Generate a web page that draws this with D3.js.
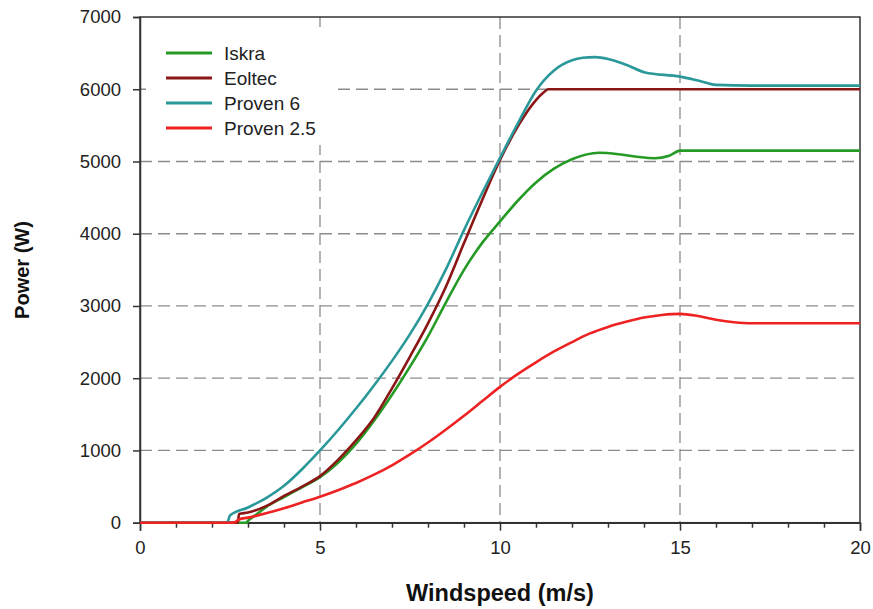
<!DOCTYPE html>
<html>
<head>
<meta charset="utf-8">
<script src="https://cdn.jsdelivr.net/npm/d3@7"></script>
<style>
  html, body { margin: 0; padding: 0; background: #ffffff; }
  svg { display: block; font-family: "Liberation Sans", Arial, sans-serif; }
</style>
</head>
<body>
<svg id="chart" width="873" height="609"></svg>
<script>
// ---- Data ----
const seriesNames = ["Iskra", "Eoltec", "Proven 6", "Proven 2.5"];
const seriesColors = ["#259a25", "#8a1616", "#2a9898", "#ee2222"];

const iskraWind  = [0, 2.95, 3.0, 3.25, 3.5, 4, 4.5, 5, 5.5, 6, 6.5, 7, 7.5, 8, 8.5, 9, 9.5, 10, 10.5, 11, 11.5, 12, 12.75, 13.3, 13.8, 14.3, 14.7, 15, 20];
const iskraPower = [0, 0, 25, 120, 215, 355, 490, 630, 830, 1090, 1410, 1770, 2160, 2580, 3050, 3500, 3870, 4170, 4460, 4710, 4900, 5030, 5120, 5100, 5065, 5045, 5080, 5150, 5150];

const eoltecWind  = [0, 2.72, 2.75, 3, 3.5, 4, 4.5, 5, 5.5, 6, 6.5, 7, 7.5, 8, 8.5, 9, 9.5, 10, 10.5, 11, 11.2, 11.34, 20];
const eoltecPower = [0, 0, 120, 140, 230, 370, 500, 645, 870, 1140, 1450, 1860, 2300, 2760, 3270, 3870, 4460, 5020, 5490, 5850, 5950, 6000, 6000];

const proven6Wind  = [0, 2.42, 2.5, 3, 3.5, 4, 4.5, 5, 5.5, 6, 6.5, 7, 7.5, 8, 8.5, 9, 9.5, 10, 10.5, 11, 11.5, 12, 12.3, 12.64, 13, 13.5, 14.03, 15, 15.5, 16, 17, 20];
const proven6Power = [0, 0, 100, 210, 340, 510, 740, 1000, 1280, 1580, 1900, 2240, 2610, 3030, 3510, 4050, 4560, 5050, 5530, 5980, 6260, 6400, 6435, 6445, 6420, 6340, 6232, 6175, 6120, 6060, 6050, 6050];

const proven25Wind  = [0, 2.6, 2.75, 3, 3.5, 4, 4.5, 5, 5.5, 6, 6.5, 7, 7.5, 8, 8.5, 9, 9.5, 10, 10.5, 11, 11.5, 12, 12.5, 13, 13.5, 14, 14.5, 15, 15.5, 16, 16.5, 17, 20];
const proven25Power = [0, 0, 45, 70, 130, 200, 280, 360, 450, 550, 665, 795, 945, 1110, 1290, 1480, 1680, 1880, 2060, 2220, 2370, 2500, 2620, 2710, 2780, 2840, 2875, 2890, 2860, 2810, 2775, 2760, 2760];

const xTicks = [0, 5, 10, 15, 20];
const xMinorTicks = [1, 2, 3, 4, 6, 7, 8, 9, 11, 12, 13, 14, 16, 17, 18, 19];
const yTicks = [0, 1000, 2000, 3000, 4000, 5000, 6000, 7000];
const xTitle = "Windspeed (m/s)";
const yTitle = "Power (W)";

const seriesData = [
  d3.zip(iskraWind, iskraPower),
  d3.zip(eoltecWind, eoltecPower),
  d3.zip(proven6Wind, proven6Power),
  d3.zip(proven25Wind, proven25Power)
];

// ---- Layout ----
const svg = d3.select("#chart");
const plotLeft = 140, plotRight = 860, plotTop = 17, plotBottom = 522.7;

const x = d3.scaleLinear().domain([0, 20]).range([plotLeft, plotRight]);
const y = d3.scaleLinear().domain([0, 7000]).range([plotBottom, plotTop]);

const gridColor = "#8c8c8c";
const axisColor = "#333333";

// grid lines
const grid = svg.append("g");
grid.selectAll("line.gx").data(xTicks.filter(v => v > 0 && v < 20)).join("line")
  .attr("x1", d => x(d)).attr("x2", d => x(d))
  .attr("y1", y(7000)).attr("y2", y(0))
  .attr("stroke", gridColor).attr("stroke-width", 1.3).attr("stroke-dasharray", "12,6");
grid.selectAll("line.gy").data(yTicks.filter(v => v > 0 && v < 7000)).join("line")
  .attr("x1", x(0)).attr("x2", x(20))
  .attr("y1", d => y(d)).attr("y2", d => y(d))
  .attr("stroke", gridColor).attr("stroke-width", 1.3).attr("stroke-dasharray", "12,6");

// legend background (covers grid)
const legX = 146, legY = 27;
svg.append("rect").attr("x", legX).attr("y", legY).attr("width", 186).attr("height", 118).attr("fill", "#ffffff");

// frame
svg.append("rect").attr("x", x(0)).attr("y", y(7000))
  .attr("width", x(20) - x(0)).attr("height", y(0) - y(7000))
  .attr("fill", "none").attr("stroke", axisColor).attr("stroke-width", 1.5);

// axes
const xAxis = d3.axisBottom(x).tickValues(xTicks).tickSize(8).tickPadding(10).tickFormat(d3.format("d"));
const gx = svg.append("g").attr("transform", `translate(0,${y(0)})`).call(xAxis);
gx.select(".domain").attr("stroke", axisColor).attr("stroke-width", 1.5);
gx.selectAll(".tick line").attr("stroke", axisColor).attr("stroke-width", 1.5);
gx.selectAll(".tick text").attr("font-size", 18.5).attr("fill", "#222").attr("font-family", "Liberation Sans, Arial, sans-serif");

const xMinor = d3.axisBottom(x).tickValues(xMinorTicks).tickSize(5).tickFormat("");
const gxm = svg.append("g").attr("transform", `translate(0,${y(0)})`).call(xMinor);
gxm.select(".domain").remove();
gxm.selectAll(".tick line").attr("stroke", axisColor).attr("stroke-width", 1.5);

const yAxis = d3.axisLeft(y).tickValues(yTicks).tickSize(7).tickPadding(12).tickFormat(d3.format("d"));
const gy = svg.append("g").attr("transform", `translate(${x(0)},0)`).call(yAxis);
gy.select(".domain").attr("stroke", axisColor).attr("stroke-width", 1.5);
gy.selectAll(".tick line").attr("stroke", axisColor).attr("stroke-width", 1.5);
gy.selectAll(".tick text").attr("font-size", 18.5).attr("fill", "#222").attr("font-family", "Liberation Sans, Arial, sans-serif");

// lines
const line = d3.line().x(d => x(d[0])).y(d => y(d[1])).curve(d3.curveMonotoneX);
svg.append("g").selectAll("path").data(seriesData).join("path")
  .attr("d", line)
  .attr("fill", "none")
  .attr("stroke", (d, i) => seriesColors[i])
  .attr("stroke-width", 2.6)
  .attr("stroke-linejoin", "round");

// legend
const leg = svg.append("g");
seriesNames.forEach((name, i) => {
  const cy = 53 + i * 25;
  leg.append("line").attr("x1", 166).attr("x2", 212).attr("y1", cy).attr("y2", cy)
    .attr("stroke", seriesColors[i]).attr("stroke-width", 2.8);
  leg.append("text").attr("x", 224).attr("y", cy).attr("dy", "0.35em")
    .attr("font-size", 19).attr("fill", "#222").text(name);
});

// axis titles
svg.append("text").attr("x", 500).attr("y", 601)
  .attr("text-anchor", "middle").attr("font-size", 23.5).attr("font-weight", "bold").attr("fill", "#111")
  .text(xTitle);
svg.append("text").attr("transform", `translate(29,270) rotate(-90)`)
  .attr("text-anchor", "middle").attr("font-size", 20).attr("font-weight", "bold").attr("fill", "#111")
  .text(yTitle);
</script>
</body>
</html>
